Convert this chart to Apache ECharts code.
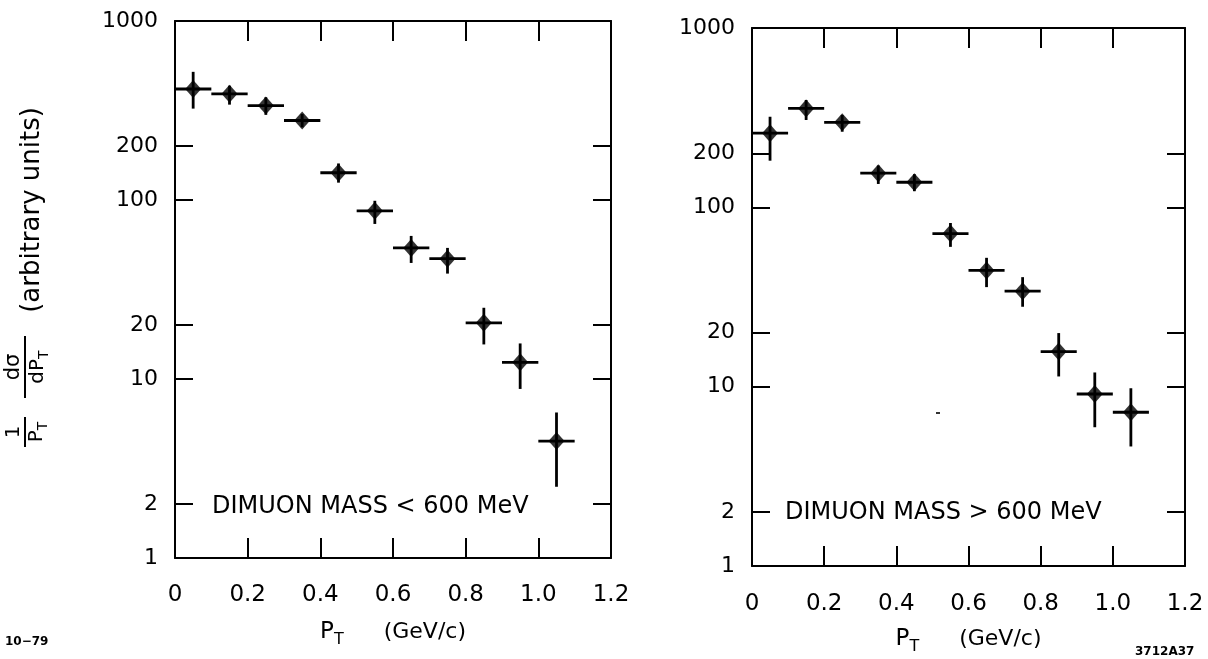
<!DOCTYPE html>
<html>
<head>
<meta charset="utf-8">
<script src="https://cdn.jsdelivr.net/npm/echarts@6/dist/echarts.min.js"></script>
<style>
html,body{margin:0;padding:0;background:#fff;}
#chart{width:1208px;height:659px;}
</style>
</head>
<body>
<div id="chart"></div>
<script>
// ---------------- DATA ----------------
const ptCenters = [0.05, 0.15, 0.25, 0.35, 0.45, 0.55, 0.65, 0.75, 0.85, 0.95, 1.05];
const ptBinWidth = 0.1;

const lowMassValues   = [417, 392, 337, 278, 142, 87, 54, 47, 20.6, 12.4, 4.5];
const lowMassErrHigh  = [520, 435, 375, 302, 160, 99, 63, 54, 25, 15.8, 6.5];
const lowMassErrLow   = [324, 341, 299, 255, 125, 73.5, 44.5, 38.8, 15.6, 8.8, 2.5];

const highMassValues  = [259, 356, 298, 155, 138, 71.4, 44.5, 34.1, 15.7, 9.1, 7.2];
const highMassErrHigh = [320, 397, 327, 171, 153, 81.8, 52.3, 40.8, 19.9, 12.0, 9.8];
const highMassErrLow  = [182, 307, 264, 135, 123, 60.2, 35.9, 27.9, 11.4, 5.94, 4.64];

const yTickValues  = [2, 10, 20, 100, 200];
const yLabelValues = [1, 2, 10, 20, 100, 200, 1000];
const xTickValues  = [0.2, 0.4, 0.6, 0.8, 1.0];

const lowMassLabel  = 'DIMUON MASS < 600 MeV';
const highMassLabel = 'DIMUON MASS > 600 MeV';
const figureDate = '10\u221279';
const figureCode = '3712A37';
// --------------------------------------

const FONT = 'DejaVu Sans';
const BLACK = '#000';

function buildErrorData(vals, lo, hi) {
  return ptCenters.map((x, i) => [x, vals[i], lo[i], hi[i], x - ptBinWidth / 2, x + ptBinWidth / 2]);
}
function buildPointData(vals) {
  return ptCenters.map((x, i) => [x, vals[i]]);
}

function errorBarRender(params, api) {
  const x = api.value(0), y = api.value(1), lo = api.value(2), hi = api.value(3);
  const xl = api.value(4), xh = api.value(5);
  const pl = api.coord([xl, y]), pr = api.coord([xh, y]);
  const pt = api.coord([x, hi]), pb = api.coord([x, lo]);
  const style = { stroke: BLACK, lineWidth: 2.8 };
  return {
    type: 'group',
    children: [
      { type: 'line', shape: { x1: pl[0], y1: pl[1], x2: pr[0], y2: pr[1] }, style: style },
      { type: 'line', shape: { x1: pt[0], y1: pt[1], x2: pb[0], y2: pb[1] }, style: style }
    ]
  };
}

const axisLineStyle = { show: true, onZero: false, lineStyle: { color: BLACK, width: 2 } };
const tickStyle = { color: BLACK, width: 2 };

function xAxes(gi, labelMargin, nameGap) {
  return [
    {
      gridIndex: gi, type: 'value', position: 'bottom', min: 0, max: 1.2, interval: 0.2,
      axisLine: axisLineStyle,
      axisTick: { show: true, inside: true, length: 20, lineStyle: tickStyle, customValues: xTickValues },
      splitLine: { show: false },
      axisLabel: {
        show: true, margin: labelMargin, color: BLACK, fontFamily: FONT, fontSize: 23,
        showMinLabel: true, showMaxLabel: true,
        formatter: v => (Math.abs(v) < 1e-9 ? '0' : v.toFixed(1))
      },
      name: '{p|P}{s|T}{g|(GeV/c)}',
      nameLocation: 'middle', nameGap: nameGap,
      nameTextStyle: {
        color: BLACK, fontFamily: FONT, fontSize: 22,
        rich: {
          p: { fontFamily: FONT, fontSize: 23, color: BLACK },
          s: { fontFamily: FONT, fontSize: 16, color: BLACK, padding: [16, 0, 0, 0] },
          g: { fontFamily: FONT, fontSize: 22, color: BLACK, padding: [0, 0, 0, 40] }
        }
      }
    },
    {
      gridIndex: gi, type: 'value', position: 'top', min: 0, max: 1.2, interval: 0.2,
      axisLine: axisLineStyle,
      axisTick: { show: true, inside: true, length: 20, lineStyle: tickStyle, customValues: xTickValues },
      splitLine: { show: false },
      axisLabel: { show: false }
    }
  ];
}

function yAxes(gi) {
  return [
    {
      gridIndex: gi, type: 'log', logBase: 10, min: 1, max: 1000, position: 'left',
      axisLine: axisLineStyle,
      axisTick: { show: true, inside: true, length: 18, lineStyle: tickStyle, customValues: yTickValues },
      minorTick: { show: false },
      splitLine: { show: false },
      axisLabel: {
        show: true, margin: 17, color: BLACK, fontFamily: FONT, fontSize: 22,
        showMinLabel: true, showMaxLabel: true, hideOverlap: false,
        customValues: yLabelValues,
        formatter: v => String(Math.round(v))
      }
    },
    {
      gridIndex: gi, type: 'log', logBase: 10, min: 1, max: 1000, position: 'right',
      axisLine: axisLineStyle,
      axisTick: { show: true, inside: true, length: 18, lineStyle: tickStyle, customValues: yTickValues },
      minorTick: { show: false },
      splitLine: { show: false },
      axisLabel: { show: false }
    }
  ];
}

function panelSeries(xi, yi, vals, lo, hi) {
  return [
    {
      type: 'custom', xAxisIndex: xi, yAxisIndex: yi,
      renderItem: errorBarRender,
      encode: { x: [0, 4, 5], y: [1, 2, 3] },
      data: buildErrorData(vals, lo, hi),
      silent: true, z: 2
    },
    {
      type: 'scatter', xAxisIndex: xi, yAxisIndex: yi,
      symbol: 'diamond', symbolSize: [16, 18],
      itemStyle: { color: BLACK },
      data: buildPointData(vals),
      silent: true, z: 3
    }
  ];
}

const subRich = {
  p: { fontFamily: FONT, fontSize: 20, fill: BLACK },
  s: { fontFamily: FONT, fontSize: 14, fill: BLACK, padding: [12, 0, 0, 0] }
};

// rotated y-axis title built in a group (local x = upward on screen)
const yTitle = {
  type: 'group', x: 0, y: 450, rotation: Math.PI / 2, silent: true,
  children: [
    { type: 'text', x: 18, y: 14, style: { text: '1', font: '20px ' + FONT, fill: BLACK, align: 'center', verticalAlign: 'middle' } },
    { type: 'line', shape: { x1: 3, y1: 25, x2: 33, y2: 25 }, style: { stroke: BLACK, lineWidth: 2 } },
    { type: 'text', x: 18, y: 37, style: { text: '{p|P}{s|T}', rich: subRich, align: 'center', verticalAlign: 'middle' } },
    { type: 'line', shape: { x1: 52, y1: 25, x2: 114, y2: 25 }, style: { stroke: BLACK, lineWidth: 2 } },
    { type: 'text', x: 83, y: 14, style: { text: 'd\u03c3', font: '21px ' + FONT, fill: BLACK, align: 'center', verticalAlign: 'middle' } },
    { type: 'text', x: 83, y: 38, style: { text: '{p|dP}{s|T}', rich: subRich, align: 'center', verticalAlign: 'middle' } },
    { type: 'text', x: 240, y: 32, style: { text: '(arbitrary units)', font: '26px ' + FONT, fill: BLACK, align: 'center', verticalAlign: 'middle' } }
  ]
};

const option = {
  backgroundColor: '#fff',
  animation: false,
  grid: [
    { left: 175, top: 21, width: 436, height: 537, containLabel: false, outerBoundsMode: 'none' },
    { left: 752, top: 28, width: 433, height: 538, containLabel: false, outerBoundsMode: 'none' }
  ],
  xAxis: [].concat(xAxes(0, 26, 58), xAxes(1, 27, 57)),
  yAxis: [].concat(yAxes(0), yAxes(1)),
  series: [].concat(
    panelSeries(0, 0, lowMassValues, lowMassErrLow, lowMassErrHigh),
    panelSeries(2, 2, highMassValues, highMassErrLow, highMassErrHigh)
  ),
  graphic: [
    yTitle,
    { type: 'text', x: 212, y: 507, silent: true, style: { text: lowMassLabel, font: '24px ' + FONT, fill: BLACK, verticalAlign: 'middle' } },
    { type: 'text', x: 785, y: 513, silent: true, style: { text: highMassLabel, font: '24px ' + FONT, fill: BLACK, verticalAlign: 'middle' } },
    { type: 'text', x: 5, y: 642, silent: true, style: { text: figureDate, font: 'bold 12px ' + FONT, fill: BLACK, verticalAlign: 'middle' } },
    { type: 'text', x: 1135, y: 652, silent: true, style: { text: figureCode, font: 'bold 12px ' + FONT, fill: BLACK, verticalAlign: 'middle' } },
    { type: 'rect', silent: true, shape: { x: 936, y: 412, width: 4, height: 2 }, style: { fill: '#333' } }
  ]
};

const chart = echarts.init(document.getElementById('chart'), null, { renderer: 'canvas' });
chart.setOption(option);
</script>
</body>
</html>
